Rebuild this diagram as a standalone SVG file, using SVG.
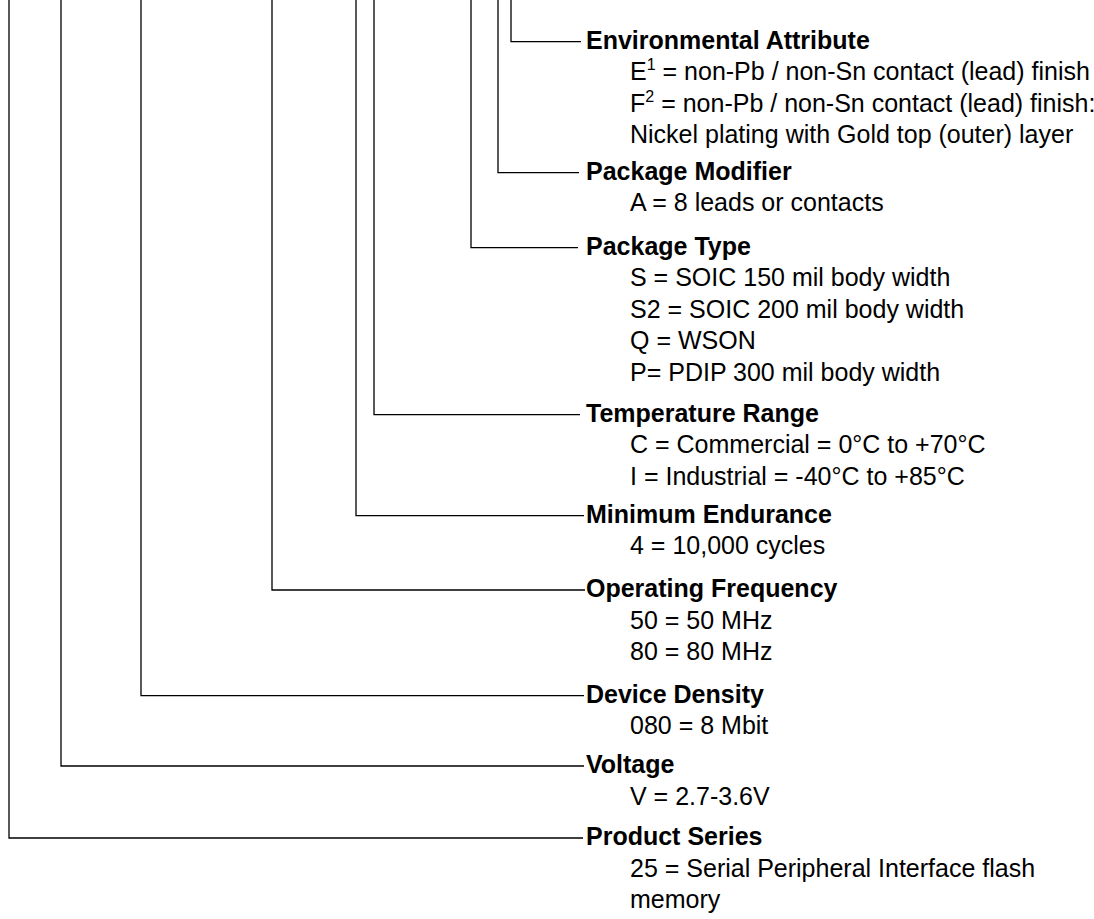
<svg xmlns="http://www.w3.org/2000/svg" width="1094" height="919" viewBox="0 0 1094 919">
<style>
.t{font-family:"Liberation Sans",Arial,Helvetica,sans-serif;font-size:25px;font-weight:bold;fill:#000}
.d{font-family:"Liberation Sans",Arial,Helvetica,sans-serif;font-size:25px;fill:#000}
.c{fill:none;stroke:#000;stroke-width:1.3}
.s{font-size:16px}
</style>
<rect width="1094" height="919" fill="#fff"/>
<g id="connectors">
<path class="c" d="M511,0 V41.7 H581"/>
<path class="c" d="M498,0 V172.7 H579"/>
<path class="c" d="M471,0 V247.7 H578"/>
<path class="c" d="M374,0 V414.7 H580"/>
<path class="c" d="M356,0 V515.7 H584"/>
<path class="c" d="M272,0 V590 H585"/>
<path class="c" d="M141,0 V695.7 H584"/>
<path class="c" d="M61,0 V766 H584"/>
<path class="c" d="M9,0 V838 H583"/>
</g>
<g id="environmental-attribute">
<text class="t" x="586" y="48.5">Environmental Attribute</text>
<text class="d" x="630" y="80">E<tspan class="s" dy="-10">1</tspan><tspan dy="10"> = non-Pb / non-Sn contact (lead) finish</tspan></text>
<text class="d" x="630" y="111.5">F<tspan class="s" dy="-10">2</tspan><tspan dy="10"> = non-Pb / non-Sn contact (lead) finish:</tspan></text>
<text class="d" x="630" y="143">Nickel plating with Gold top (outer) layer</text>
</g>
<g id="package-modifier">
<text class="t" x="586" y="179.5">Package Modifier</text>
<text class="d" x="630" y="211">A = 8 leads or contacts</text>
</g>
<g id="package-type">
<text class="t" x="586" y="254.5">Package Type</text>
<text class="d" x="630" y="286">S = SOIC 150 mil body width</text>
<text class="d" x="630" y="317.5">S2 = SOIC 200 mil body width</text>
<text class="d" x="630" y="349">Q = WSON</text>
<text class="d" x="630" y="380.5">P= PDIP 300 mil body width</text>
</g>
<g id="temperature-range">
<text class="t" x="586" y="421.5">Temperature Range</text>
<text class="d" x="630" y="453">C = Commercial = 0°C to +70°C</text>
<text class="d" x="630" y="484.5">I = Industrial = -40°C to +85°C</text>
</g>
<g id="minimum-endurance">
<text class="t" x="586" y="522.5">Minimum Endurance</text>
<text class="d" x="630" y="554">4 = 10,000 cycles</text>
</g>
<g id="operating-frequency">
<text class="t" x="586" y="597">Operating Frequency</text>
<text class="d" x="630" y="628.5">50 = 50 MHz</text>
<text class="d" x="630" y="660">80 = 80 MHz</text>
</g>
<g id="device-density">
<text class="t" x="586" y="702.5">Device Density</text>
<text class="d" x="630" y="734">080 = 8 Mbit</text>
</g>
<g id="voltage">
<text class="t" x="586" y="773">Voltage</text>
<text class="d" x="630" y="804.5">V = 2.7-3.6V</text>
</g>
<g id="product-series">
<text class="t" x="586" y="845">Product Series</text>
<text class="d" x="630" y="876.5">25 = Serial Peripheral Interface flash</text>
<text class="d" x="630" y="908">memory</text>
</g>
</svg>
